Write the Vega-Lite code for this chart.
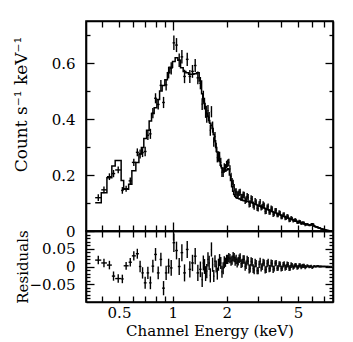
{
 "$schema": "https://vega.github.io/schema/vega-lite/v6.json",
 "background": "white",
 "padding": {"left": 11, "top": 19, "right": 5, "bottom": 2},
 "spacing": 0,
 "bounds": "flush",
 "resolve": {"scale": {"y": "independent"}},
 "config": {
  "axis": {"labelFont": "DejaVu Serif", "labelFontSize": 15, "labelColor": "black", "titleFont": "DejaVu Serif", "titleFontSize": 15, "titleFontWeight": "normal", "titleColor": "black", "domainColor": "black", "domainWidth": 1.6, "tickColor": "black", "tickWidth": 1.3, "grid": false},
  "view": {"stroke": "black", "strokeWidth": 1.6}
 },
 "datasets": {"spec": [
{"lo":0.368,"hi":0.398,"c":0.383,"m":0.101,"d":0.119,"e":0.012,"r":0.018},
{"lo":0.398,"hi":0.428,"c":0.412,"m":0.137,"d":0.147,"e":0.012,"r":0.010},
{"lo":0.428,"hi":0.456,"c":0.442,"m":0.190,"d":0.194,"e":0.012,"r":0.004},
{"lo":0.456,"hi":0.476,"c":0.466,"m":0.232,"d":0.205,"e":0.013,"r":-0.027},
{"lo":0.476,"hi":0.514,"c":0.495,"m":0.252,"d":0.218,"e":0.012,"r":-0.034},
{"lo":0.514,"hi":0.531,"c":0.522,"m":0.180,"d":0.145,"e":0.012,"r":-0.035},
{"lo":0.531,"hi":0.566,"c":0.548,"m":0.149,"d":0.151,"e":0.011,"r":0.002},
{"lo":0.566,"hi":0.590,"c":0.578,"m":0.167,"d":0.179,"e":0.012,"r":0.012},
{"lo":0.590,"hi":0.621,"c":0.605,"m":0.215,"d":0.245,"e":0.013,"r":0.030},
{"lo":0.621,"hi":0.646,"c":0.633,"m":0.245,"d":0.281,"e":0.014,"r":0.036},
{"lo":0.646,"hi":0.667,"c":0.656,"m":0.275,"d":0.275,"e":0.016,"r":0.000},
{"lo":0.667,"hi":0.688,"c":0.677,"m":0.298,"d":0.280,"e":0.016,"r":-0.018},
{"lo":0.688,"hi":0.713,"c":0.700,"m":0.330,"d":0.284,"e":0.017,"r":-0.046},
{"lo":0.713,"hi":0.737,"c":0.725,"m":0.360,"d":0.342,"e":0.017,"r":-0.018},
{"lo":0.737,"hi":0.760,"c":0.749,"m":0.393,"d":0.347,"e":0.018,"r":-0.046},
{"lo":0.760,"hi":0.786,"c":0.773,"m":0.420,"d":0.421,"e":0.018,"r":0.001},
{"lo":0.786,"hi":0.814,"c":0.800,"m":0.440,"d":0.474,"e":0.018,"r":0.034},
{"lo":0.814,"hi":0.843,"c":0.828,"m":0.470,"d":0.452,"e":0.018,"r":-0.018},
{"lo":0.843,"hi":0.871,"c":0.857,"m":0.500,"d":0.520,"e":0.019,"r":0.020},
{"lo":0.871,"hi":0.902,"c":0.887,"m":0.520,"d":0.459,"e":0.020,"r":-0.061},
{"lo":0.902,"hi":0.932,"c":0.917,"m":0.540,"d":0.522,"e":0.020,"r":-0.018},
{"lo":0.932,"hi":0.962,"c":0.947,"m":0.565,"d":0.566,"e":0.021,"r":0.001},
{"lo":0.962,"hi":0.996,"c":0.979,"m":0.585,"d":0.581,"e":0.022,"r":-0.004},
{"lo":0.996,"hi":1.030,"c":1.013,"m":0.605,"d":0.672,"e":0.026,"r":0.067},
{"lo":1.030,"hi":1.066,"c":1.048,"m":0.619,"d":0.664,"e":0.025,"r":0.045},
{"lo":1.066,"hi":1.104,"c":1.085,"m":0.610,"d":0.610,"e":0.024,"r":0.000},
{"lo":1.104,"hi":1.142,"c":1.123,"m":0.583,"d":0.622,"e":0.024,"r":0.039},
{"lo":1.142,"hi":1.182,"c":1.162,"m":0.570,"d":0.552,"e":0.024,"r":-0.018},
{"lo":1.182,"hi":1.224,"c":1.203,"m":0.565,"d":0.613,"e":0.024,"r":0.048},
{"lo":1.224,"hi":1.265,"c":1.244,"m":0.560,"d":0.552,"e":0.023,"r":-0.008},
{"lo":1.265,"hi":1.310,"c":1.287,"m":0.560,"d":0.570,"e":0.023,"r":0.010},
{"lo":1.310,"hi":1.356,"c":1.333,"m":0.562,"d":0.591,"e":0.023,"r":0.029},
{"lo":1.356,"hi":1.403,"c":1.379,"m":0.565,"d":0.547,"e":0.023,"r":-0.018},
{"lo":1.403,"hi":1.447,"c":1.425,"m":0.536,"d":0.528,"e":0.022,"r":-0.008},
{"lo":1.447,"hi":1.469,"c":1.458,"m":0.490,"d":0.453,"e":0.021,"r":-0.037},
{"lo":1.469,"hi":1.491,"c":1.480,"m":0.470,"d":0.480,"e":0.021,"r":0.010},
{"lo":1.491,"hi":1.513,"c":1.502,"m":0.455,"d":0.455,"e":0.021,"r":0.000},
{"lo":1.513,"hi":1.535,"c":1.524,"m":0.445,"d":0.425,"e":0.021,"r":-0.020},
{"lo":1.535,"hi":1.559,"c":1.547,"m":0.420,"d":0.407,"e":0.020,"r":-0.013},
{"lo":1.559,"hi":1.583,"c":1.571,"m":0.410,"d":0.430,"e":0.020,"r":0.020},
{"lo":1.583,"hi":1.607,"c":1.595,"m":0.395,"d":0.405,"e":0.020,"r":0.010},
{"lo":1.607,"hi":1.631,"c":1.619,"m":0.385,"d":0.360,"e":0.020,"r":-0.025},
{"lo":1.631,"hi":1.655,"c":1.643,"m":0.378,"d":0.426,"e":0.020,"r":0.048},
{"lo":1.655,"hi":1.680,"c":1.667,"m":0.366,"d":0.371,"e":0.020,"r":0.005},
{"lo":1.680,"hi":1.706,"c":1.693,"m":0.345,"d":0.318,"e":0.017,"r":-0.027},
{"lo":1.706,"hi":1.733,"c":1.719,"m":0.322,"d":0.337,"e":0.017,"r":0.015},
{"lo":1.733,"hi":1.759,"c":1.746,"m":0.298,"d":0.298,"e":0.017,"r":0.000},
{"lo":1.759,"hi":1.785,"c":1.772,"m":0.282,"d":0.262,"e":0.017,"r":-0.020},
{"lo":1.785,"hi":1.811,"c":1.798,"m":0.262,"d":0.267,"e":0.017,"r":0.005},
{"lo":1.811,"hi":1.838,"c":1.824,"m":0.248,"d":0.266,"e":0.017,"r":0.018},
{"lo":1.838,"hi":1.867,"c":1.852,"m":0.235,"d":0.245,"e":0.017,"r":0.010},
{"lo":1.867,"hi":1.896,"c":1.881,"m":0.225,"d":0.210,"e":0.017,"r":-0.015},
{"lo":1.896,"hi":1.924,"c":1.910,"m":0.215,"d":0.210,"e":0.017,"r":-0.005},
{"lo":1.924,"hi":1.953,"c":1.938,"m":0.213,"d":0.225,"e":0.017,"r":0.012},
{"lo":1.953,"hi":1.982,"c":1.967,"m":0.214,"d":0.226,"e":0.013,"r":0.012},
{"lo":1.982,"hi":2.012,"c":1.997,"m":0.218,"d":0.238,"e":0.013,"r":0.020},
{"lo":2.012,"hi":2.040,"c":2.026,"m":0.222,"d":0.242,"e":0.013,"r":0.020},
{"lo":2.040,"hi":2.069,"c":2.054,"m":0.220,"d":0.245,"e":0.013,"r":0.025},
{"lo":2.069,"hi":2.099,"c":2.084,"m":0.200,"d":0.222,"e":0.013,"r":0.022},
{"lo":2.099,"hi":2.129,"c":2.114,"m":0.180,"d":0.195,"e":0.013,"r":0.015},
{"lo":2.129,"hi":2.158,"c":2.143,"m":0.158,"d":0.176,"e":0.013,"r":0.018},
{"lo":2.158,"hi":2.187,"c":2.172,"m":0.142,"d":0.170,"e":0.013,"r":0.028},
{"lo":2.187,"hi":2.215,"c":2.201,"m":0.130,"d":0.155,"e":0.013,"r":0.025},
{"lo":2.215,"hi":2.243,"c":2.229,"m":0.124,"d":0.139,"e":0.013,"r":0.015},
{"lo":2.243,"hi":2.272,"c":2.257,"m":0.120,"d":0.140,"e":0.013,"r":0.020},
{"lo":2.272,"hi":2.302,"c":2.287,"m":0.118,"d":0.128,"e":0.013,"r":0.010},
{"lo":2.302,"hi":2.332,"c":2.317,"m":0.117,"d":0.132,"e":0.012,"r":0.015},
{"lo":2.332,"hi":2.362,"c":2.347,"m":0.115,"d":0.137,"e":0.012,"r":0.022},
{"lo":2.362,"hi":2.392,"c":2.377,"m":0.114,"d":0.139,"e":0.012,"r":0.025},
{"lo":2.392,"hi":2.423,"c":2.407,"m":0.112,"d":0.120,"e":0.012,"r":0.008},
{"lo":2.423,"hi":2.455,"c":2.439,"m":0.111,"d":0.121,"e":0.012,"r":0.010},
{"lo":2.455,"hi":2.487,"c":2.471,"m":0.109,"d":0.129,"e":0.012,"r":0.020},
{"lo":2.487,"hi":2.519,"c":2.503,"m":0.108,"d":0.128,"e":0.012,"r":0.020},
{"lo":2.519,"hi":2.551,"c":2.535,"m":0.108,"d":0.108,"e":0.012,"r":0.000},
{"lo":2.551,"hi":2.584,"c":2.567,"m":0.107,"d":0.112,"e":0.012,"r":0.005},
{"lo":2.584,"hi":2.618,"c":2.601,"m":0.106,"d":0.124,"e":0.012,"r":0.018},
{"lo":2.618,"hi":2.652,"c":2.635,"m":0.105,"d":0.120,"e":0.012,"r":0.015},
{"lo":2.652,"hi":2.686,"c":2.669,"m":0.104,"d":0.096,"e":0.012,"r":-0.008},
{"lo":2.686,"hi":2.721,"c":2.703,"m":0.103,"d":0.098,"e":0.012,"r":-0.005},
{"lo":2.721,"hi":2.756,"c":2.738,"m":0.102,"d":0.116,"e":0.012,"r":0.014},
{"lo":2.756,"hi":2.792,"c":2.774,"m":0.101,"d":0.113,"e":0.012,"r":0.012},
{"lo":2.792,"hi":2.828,"c":2.810,"m":0.099,"d":0.093,"e":0.012,"r":-0.006},
{"lo":2.828,"hi":2.865,"c":2.846,"m":0.098,"d":0.088,"e":0.012,"r":-0.010},
{"lo":2.865,"hi":2.902,"c":2.883,"m":0.096,"d":0.106,"e":0.012,"r":0.010},
{"lo":2.902,"hi":2.939,"c":2.920,"m":0.095,"d":0.103,"e":0.010,"r":0.008},
{"lo":2.939,"hi":2.977,"c":2.958,"m":0.093,"d":0.081,"e":0.010,"r":-0.012},
{"lo":2.977,"hi":3.016,"c":2.996,"m":0.092,"d":0.080,"e":0.010,"r":-0.012},
{"lo":3.016,"hi":3.055,"c":3.035,"m":0.090,"d":0.096,"e":0.010,"r":0.006},
{"lo":3.055,"hi":3.094,"c":3.074,"m":0.089,"d":0.104,"e":0.010,"r":0.015},
{"lo":3.094,"hi":3.134,"c":3.114,"m":0.087,"d":0.083,"e":0.010,"r":-0.004},
{"lo":3.134,"hi":3.175,"c":3.154,"m":0.086,"d":0.086,"e":0.010,"r":0.000},
{"lo":3.175,"hi":3.216,"c":3.195,"m":0.084,"d":0.096,"e":0.010,"r":0.012},
{"lo":3.216,"hi":3.258,"c":3.237,"m":0.082,"d":0.092,"e":0.010,"r":0.010},
{"lo":3.258,"hi":3.300,"c":3.279,"m":0.080,"d":0.070,"e":0.010,"r":-0.010},
{"lo":3.300,"hi":3.343,"c":3.321,"m":0.079,"d":0.071,"e":0.010,"r":-0.008},
{"lo":3.343,"hi":3.386,"c":3.364,"m":0.077,"d":0.085,"e":0.010,"r":0.008},
{"lo":3.386,"hi":3.430,"c":3.408,"m":0.076,"d":0.088,"e":0.010,"r":0.012},
{"lo":3.430,"hi":3.474,"c":3.452,"m":0.074,"d":0.068,"e":0.010,"r":-0.006},
{"lo":3.474,"hi":3.519,"c":3.496,"m":0.073,"d":0.068,"e":0.010,"r":-0.005},
{"lo":3.519,"hi":3.565,"c":3.542,"m":0.071,"d":0.081,"e":0.010,"r":0.010},
{"lo":3.565,"hi":3.611,"c":3.588,"m":0.070,"d":0.078,"e":0.010,"r":0.008},
{"lo":3.611,"hi":3.657,"c":3.634,"m":0.068,"d":0.060,"e":0.010,"r":-0.008},
{"lo":3.657,"hi":3.705,"c":3.681,"m":0.067,"d":0.061,"e":0.008,"r":-0.006},
{"lo":3.705,"hi":3.753,"c":3.729,"m":0.065,"d":0.074,"e":0.008,"r":0.009},
{"lo":3.753,"hi":3.801,"c":3.777,"m":0.064,"d":0.074,"e":0.008,"r":0.010},
{"lo":3.801,"hi":3.851,"c":3.826,"m":0.062,"d":0.057,"e":0.008,"r":-0.005},
{"lo":3.851,"hi":3.900,"c":3.875,"m":0.061,"d":0.057,"e":0.008,"r":-0.004},
{"lo":3.900,"hi":3.951,"c":3.925,"m":0.059,"d":0.066,"e":0.008,"r":0.007},
{"lo":3.951,"hi":4.002,"c":3.976,"m":0.058,"d":0.064,"e":0.008,"r":0.006},
{"lo":4.002,"hi":4.054,"c":4.028,"m":0.056,"d":0.050,"e":0.008,"r":-0.006},
{"lo":4.054,"hi":4.106,"c":4.080,"m":0.055,"d":0.050,"e":0.008,"r":-0.005},
{"lo":4.106,"hi":4.160,"c":4.133,"m":0.053,"d":0.058,"e":0.008,"r":0.005},
{"lo":4.160,"hi":4.213,"c":4.186,"m":0.052,"d":0.059,"e":0.008,"r":0.007},
{"lo":4.213,"hi":4.268,"c":4.240,"m":0.050,"d":0.046,"e":0.008,"r":-0.004},
{"lo":4.268,"hi":4.323,"c":4.295,"m":0.049,"d":0.047,"e":0.008,"r":-0.002},
{"lo":4.323,"hi":4.379,"c":4.351,"m":0.047,"d":0.053,"e":0.008,"r":0.006},
{"lo":4.379,"hi":4.436,"c":4.407,"m":0.046,"d":0.051,"e":0.008,"r":0.005},
{"lo":4.436,"hi":4.493,"c":4.464,"m":0.044,"d":0.039,"e":0.008,"r":-0.005},
{"lo":4.493,"hi":4.551,"c":4.522,"m":0.044,"d":0.040,"e":0.008,"r":-0.004},
{"lo":4.551,"hi":4.610,"c":4.580,"m":0.042,"d":0.046,"e":0.008,"r":0.004},
{"lo":4.610,"hi":4.670,"c":4.640,"m":0.041,"d":0.045,"e":0.006,"r":0.004},
{"lo":4.670,"hi":4.730,"c":4.700,"m":0.039,"d":0.036,"e":0.006,"r":-0.003},
{"lo":4.730,"hi":4.792,"c":4.761,"m":0.038,"d":0.038,"e":0.006,"r":0.000},
{"lo":4.792,"hi":4.854,"c":4.823,"m":0.036,"d":0.040,"e":0.006,"r":0.004},
{"lo":4.854,"hi":4.917,"c":4.885,"m":0.035,"d":0.038,"e":0.006,"r":0.003},
{"lo":4.917,"hi":4.980,"c":4.948,"m":0.034,"d":0.031,"e":0.006,"r":-0.003},
{"lo":4.980,"hi":5.045,"c":5.012,"m":0.033,"d":0.031,"e":0.006,"r":-0.002},
{"lo":5.045,"hi":5.110,"c":5.077,"m":0.031,"d":0.034,"e":0.006,"r":0.003},
{"lo":5.110,"hi":5.176,"c":5.143,"m":0.030,"d":0.033,"e":0.006,"r":0.003},
{"lo":5.176,"hi":5.243,"c":5.209,"m":0.029,"d":0.027,"e":0.006,"r":-0.002},
{"lo":5.243,"hi":5.311,"c":5.277,"m":0.028,"d":0.029,"e":0.006,"r":0.001},
{"lo":5.311,"hi":5.380,"c":5.345,"m":0.027,"d":0.029,"e":0.006,"r":0.002},
{"lo":5.380,"hi":5.449,"c":5.414,"m":0.026,"d":0.028,"e":0.006,"r":0.002},
{"lo":5.449,"hi":5.520,"c":5.484,"m":0.025,"d":0.023,"e":0.006,"r":-0.002},
{"lo":5.520,"hi":5.592,"c":5.556,"m":0.024,"d":0.023,"e":0.004,"r":-0.001},
{"lo":5.592,"hi":5.664,"c":5.628,"m":0.023,"d":0.025,"e":0.004,"r":0.002},
{"lo":5.664,"hi":5.737,"c":5.700,"m":0.022,"d":0.023,"e":0.004,"r":0.001},
{"lo":5.737,"hi":5.811,"c":5.774,"m":0.022,"d":0.021,"e":0.004,"r":-0.001},
{"lo":5.811,"hi":5.887,"c":5.849,"m":0.021,"d":0.021,"e":0.004,"r":0.000},
{"lo":5.887,"hi":5.963,"c":5.925,"m":0.022,"d":0.023,"e":0.004,"r":0.001},
{"lo":5.963,"hi":6.040,"c":6.001,"m":0.026,"d":0.023,"e":0.004,"r":-0.003},
{"lo":6.040,"hi":6.118,"c":6.079,"m":0.024,"d":0.023,"e":0.004,"r":-0.001},
{"lo":6.118,"hi":6.198,"c":6.158,"m":0.018,"d":0.019,"e":0.003,"r":0.001},
{"lo":6.198,"hi":6.278,"c":6.238,"m":0.016,"d":0.016,"e":0.003,"r":0.000},
{"lo":6.278,"hi":6.359,"c":6.318,"m":0.015,"d":0.015,"e":0.003,"r":0.000},
{"lo":6.359,"hi":6.441,"c":6.400,"m":0.013,"d":0.014,"e":0.003,"r":0.001},
{"lo":6.441,"hi":6.525,"c":6.483,"m":0.012,"d":0.013,"e":0.003,"r":0.001},
{"lo":6.525,"hi":6.609,"c":6.567,"m":0.011,"d":0.011,"e":0.003,"r":0.000},
{"lo":6.609,"hi":6.695,"c":6.652,"m":0.010,"d":0.010,"e":0.003,"r":0.000},
{"lo":6.695,"hi":6.781,"c":6.738,"m":0.008,"d":0.008,"e":0.003,"r":0.000},
{"lo":6.781,"hi":6.869,"c":6.825,"m":0.007,"d":0.007,"e":0.002,"r":0.000},
{"lo":6.869,"hi":6.958,"c":6.913,"m":0.006,"d":0.006,"e":0.002,"r":0.000},
{"lo":6.958,"hi":7.048,"c":7.003,"m":0.005,"d":0.005,"e":0.002,"r":0.000},
{"lo":7.048,"hi":7.139,"c":7.093,"m":0.004,"d":0.004,"e":0.002,"r":0.000},
{"lo":7.139,"hi":7.278,"c":7.208,"m":0.003,"d":0.003,"e":0.002,"r":0.000},
{"lo":7.278,"hi":7.420,"c":7.349,"m":0.002,"d":0.002,"e":0.002,"r":0.000},
{"lo":7.420,"hi":7.575,"c":7.497,"m":0.001,"d":0.001,"e":0.001,"r":0.000},
{"lo":7.575,"hi":7.733,"c":7.654,"m":0.001,"d":0.001,"e":0.001,"r":0.000}
 ]},
 "data": {"name": "spec"},
 "vconcat": [
  {
   "width": 247, "height": 210,
   "resolve": {"axis": {"x": "independent", "y": "independent"}},
   "layer": [
    {
     "mark": {"type": "line", "interpolate": "step-after", "color": "black", "strokeWidth": 1.5},
     "encoding": {
      "x": {"field": "lo", "type": "quantitative", "scale": {"type": "log", "domain": [0.327, 7.85], "nice": false},
        "axis": {"orient": "bottom", "values": [0.4,0.5,0.6,0.7,0.8,0.9,1,2,3,4,5,6,7], "labels": false, "title": null, "minExtent": 0, "maxExtent": 0,
          "tickSize": {"condition": {"test": "datum.value == 1", "value": -9}, "value": -6}}},
      "y": {"field": "m", "type": "quantitative", "scale": {"domain": [0, 0.75], "nice": false, "zero": false},
        "axis": {"orient": "left", "values": [0,0.1,0.2,0.3,0.4,0.5,0.6,0.7], "title": "Count s⁻¹ keV⁻¹", "titleFontSize": 17, "titleX": -56, "titleY": 83,
          "labelPadding": 19,
          "labelExpr": "datum.value == 0 ? '0' : (abs(datum.value*5 - round(datum.value*5)) < 0.001 ? format(datum.value, '.1f') : '')",
          "tickSize": {"condition": {"test": "abs(datum.value*5 - round(datum.value*5)) < 0.001", "value": -8}, "value": -4}}}
     }
    },
    {
     "mark": {"type": "rule", "color": "black", "strokeWidth": 1.4},
     "encoding": {
      "x": {"field": "lo", "type": "quantitative",
        "axis": {"orient": "top", "values": [0.4,0.5,0.6,0.7,0.8,0.9,1,2,3,4,5,6,7], "labels": false, "title": null, "minExtent": 0, "maxExtent": 0,
          "tickSize": {"condition": {"test": "datum.value == 1", "value": -9}, "value": -6}}},
      "x2": {"field": "hi"},
      "y": {"field": "d", "type": "quantitative",
        "axis": {"orient": "right", "values": [0,0.1,0.2,0.3,0.4,0.5,0.6,0.7], "labels": false, "title": null, "minExtent": 0, "maxExtent": 0,
          "tickSize": {"condition": {"test": "abs(datum.value*5 - round(datum.value*5)) < 0.001", "value": -8}, "value": -4}}}
     }
    },
    {
     "mark": {"type": "errorbar", "color": "black", "thickness": 1.4},
     "encoding": {
      "x": {"field": "c", "type": "quantitative", "axis": null},
      "y": {"field": "d", "type": "quantitative", "axis": null},
      "yError": {"field": "e"}
     }
    }
   ]
  },
  {
   "width": 247, "height": 71,
   "resolve": {"axis": {"x": "independent", "y": "independent"}},
   "layer": [
    {
     "mark": {"type": "rule", "color": "black", "strokeWidth": 1.4},
     "encoding": {
      "x": {"field": "lo", "type": "quantitative", "scale": {"type": "log", "domain": [0.327, 7.85], "nice": false},
        "axis": {"orient": "bottom", "values": [0.4,0.5,0.6,0.7,0.8,0.9,1,2,3,4,5,6,7], "title": "Channel Energy (keV)",
          "labelPadding": 9, "titlePadding": 3,
          "labelExpr": "indexof([0.5,1,2,5], datum.value) >= 0 ? format(datum.value, '~g') : ''",
          "tickSize": -6}},
      "x2": {"field": "hi"},
      "y": {"field": "r", "type": "quantitative", "scale": {"domain": [-0.1, 0.1], "nice": false, "zero": false},
        "axis": {"orient": "left", "values": [-0.09,-0.08,-0.07,-0.06,-0.05,-0.04,-0.03,-0.02,-0.01,0,0.01,0.02,0.03,0.04,0.05,0.06,0.07,0.08,0.09],
          "title": "Residuals", "titleX": -56, "labelPadding": 19,
          "labelExpr": "datum.value == 0 ? '0' : (abs(abs(datum.value) - 0.05) < 0.001 ? (datum.value < 0 ? '−0.05' : '0.05') : '')",
          "tickSize": {"condition": {"test": "abs(datum.value) < 0.001 || abs(abs(datum.value) - 0.05) < 0.001", "value": -8}, "value": -4}}}
     }
    },
    {
     "mark": {"type": "errorbar", "color": "black", "thickness": 1.4},
     "encoding": {
      "x": {"field": "c", "type": "quantitative",
        "axis": {"orient": "top", "values": [0.4,0.5,0.6,0.7,0.8,0.9,1,2,3,4,5,6,7], "labels": false, "title": null, "minExtent": 0, "maxExtent": 0,
          "tickSize": {"condition": {"test": "datum.value == 1", "value": -9}, "value": -6}}},
      "y": {"field": "r", "type": "quantitative",
        "axis": {"orient": "right", "values": [-0.09,-0.08,-0.07,-0.06,-0.05,-0.04,-0.03,-0.02,-0.01,0,0.01,0.02,0.03,0.04,0.05,0.06,0.07,0.08,0.09], "labels": false, "title": null, "minExtent": 0, "maxExtent": 0,
          "tickSize": {"condition": {"test": "abs(datum.value) < 0.001 || abs(abs(datum.value) - 0.05) < 0.001", "value": -8}, "value": -4}}},
      "yError": {"field": "e"}
     }
    }
   ]
  }
 ]
}
